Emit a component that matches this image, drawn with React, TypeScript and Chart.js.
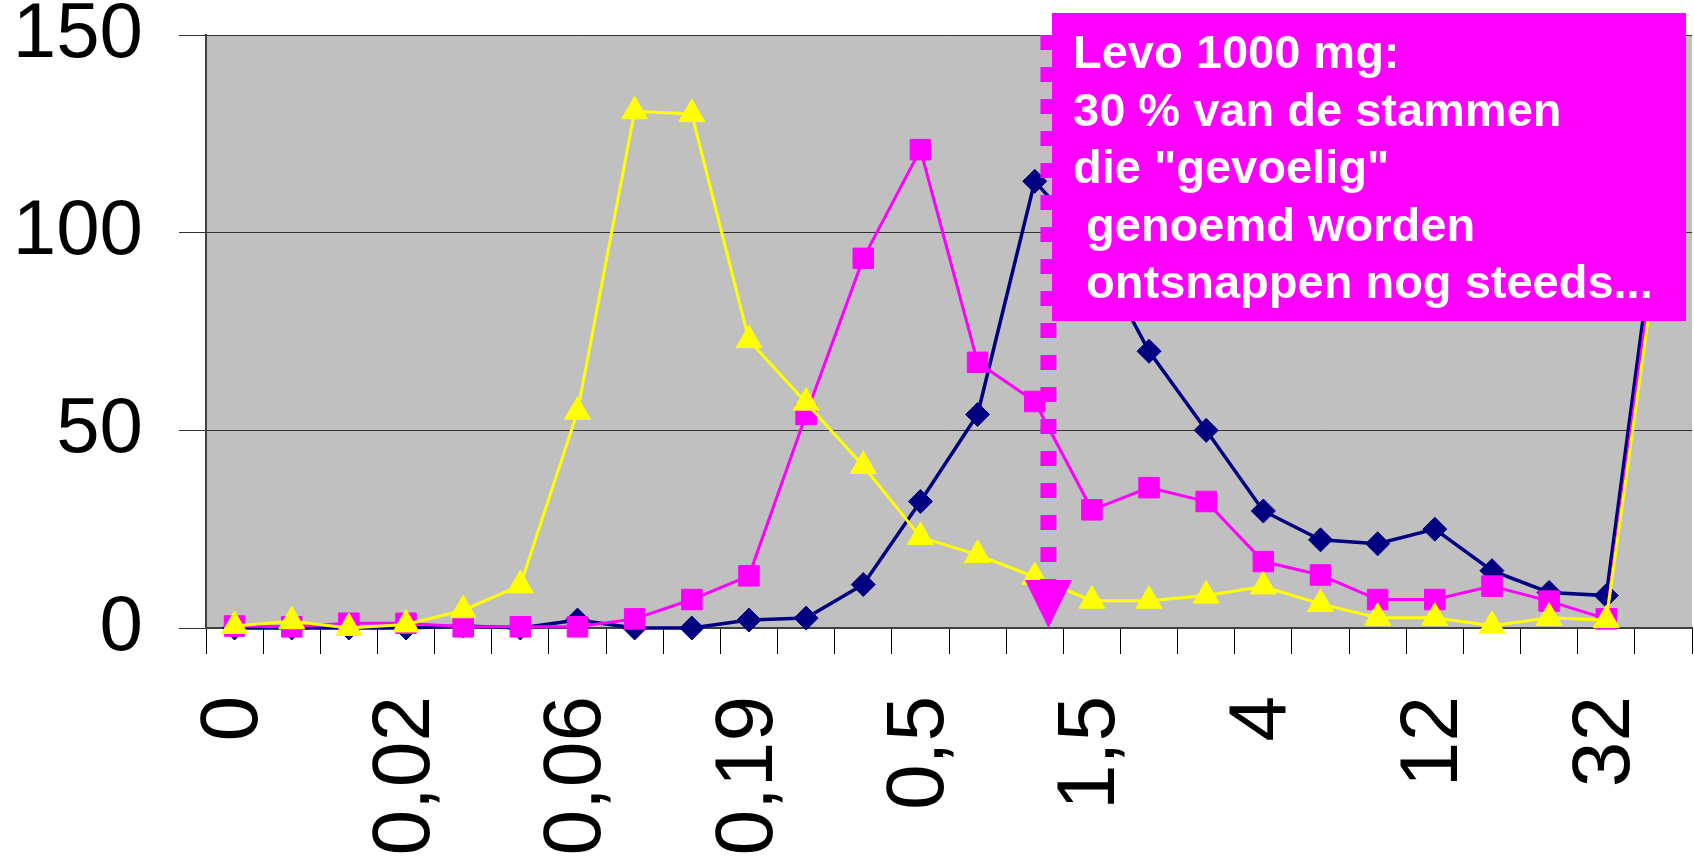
import React, { useEffect, useRef } from "react";
import { Chart, registerables } from "chart.js";

Chart.register(...registerables);

const categories = ["0", "0,01", "0,01", "0,02", "0,03", "0,05", "0,06", "0,09", "0,13", "0,19", "0,25", "0,38", "0,5", "0,75", "1", "1,5", "2", "3", "4", "6", "8", "12", "16", "24", "32", ">32"];

const navySeries = [0, 0, 0, 0, 0.5, 0, 2, 0, 0, 2, 2.5, 11, 32, 54, 113, 97, 70, 50, 29.6, 22.3, 21.3, 25, 14.5, 9, 8.2, 117];
const magentaSeries = [0.5, 0.3, 1.2, 1.2, 0.3, 0.3, 0.3, 2.3, 7.2, 13.2, 54, 93.5, 121, 67.2, 57.3, 29.9, 35.5, 32, 16.8, 13.4, 7.2, 7.2, 10.6, 6.8, 2.3, 112];
const yellowSeries = [0.5, 1.7, 0, 0.9, 4.5, 10.8, 54.7, 130.7, 130, 72.8, 57, 41, 23, 18.5, 12.9, 6.9, 6.9, 8.2, 10.5, 6.1, 2.6, 2.6, 0.6, 2.6, 2, 106];

const yTicks = [0, 50, 100, 150];
const labelEvery = 3;
const breakpointValue = 14.24; // category position of the dotted marker

const annotationLines = ["Levo 1000 mg:", "30 % van de stammen", 'die "gevoelig"', " genoemd worden", " ontsnappen nog steeds..."];

const FONT = "'Liberation Sans', Arial, sans-serif";

const bgPlugin = {
  id: "plotBg",
  beforeDraw(chart: any) {
    const { ctx, chartArea } = chart;
    ctx.save();
    ctx.fillStyle = "#C0C0C0";
    ctx.fillRect(chartArea.left, chartArea.top, chartArea.right - chartArea.left, chartArea.bottom - chartArea.top);
    ctx.restore();
  },
};

const annotationPlugin = {
  id: "levoAnnotation",
  afterDraw(chart: any) {
    const { ctx, chartArea, scales } = chart;
    const x = scales.x.getPixelForValue(breakpointValue);
    const arrowH = 48;
    const arrowW = 47;
    const tipY = chartArea.bottom;
    ctx.save();
    ctx.strokeStyle = "#FF00FF";
    ctx.lineWidth = 16;
    ctx.setLineDash([15, 17]);
    ctx.beginPath();
    ctx.moveTo(x, chartArea.top);
    ctx.lineTo(x, tipY - arrowH + 4);
    ctx.stroke();
    ctx.setLineDash([]);
    ctx.fillStyle = "#FF00FF";
    ctx.beginPath();
    ctx.moveTo(x - arrowW / 2, tipY - arrowH);
    ctx.lineTo(x + arrowW / 2, tipY - arrowH);
    ctx.lineTo(x, tipY);
    ctx.closePath();
    ctx.fill();
    const bx = 1052, by = 13, bw = 634, bh = 308;
    ctx.fillStyle = "#FF00FF";
    ctx.fillRect(bx, by, bw, bh);
    ctx.fillStyle = "#FFFFFF";
    ctx.font = `bold 47px ${FONT}`;
    ctx.textAlign = "left";
    ctx.textBaseline = "alphabetic";
    annotationLines.forEach((t, i) => {
      ctx.fillText(t, bx + 21, by + 55 + i * 57.5);
    });
    ctx.restore();
  },
};

export default function App() {
  const ref = useRef<HTMLCanvasElement | null>(null);

  useEffect(() => {
    document.body.style.margin = "0";
    const canvas = ref.current;
    if (!canvas) return;
    const common = { pointBorderWidth: 1, clip: false as any, tension: 0 };
    const chart = new Chart(canvas, {
      type: "line",
      data: {
        labels: categories,
        datasets: [
          {
            ...common,
            label: "navy",
            data: navySeries,
            borderColor: "#000080",
            backgroundColor: "#000080",
            pointStyle: "rectRot",
            pointRadius: 12,
            borderWidth: 3.5,
            order: 2,
          },
          {
            ...common,
            label: "magenta",
            data: magentaSeries,
            borderColor: "#FF00FF",
            backgroundColor: "#FF00FF",
            pointStyle: "rect",
            pointRadius: 14.5,
            borderWidth: 3,
            order: 1,
          },
          {
            ...common,
            label: "yellow",
            data: yellowSeries,
            borderColor: "#FFFF00",
            backgroundColor: "#FFFF00",
            pointStyle: "triangle",
            pointRadius: 15,
            borderWidth: 3,
            order: 0,
          },
        ],
      },
      options: {
        responsive: false,
        animation: false,
        devicePixelRatio: 1,
        layout: { autoPadding: false, padding: { top: 35, right: 2, left: 0, bottom: 0 } },
        plugins: { legend: { display: false }, tooltip: { enabled: false } },
        events: [],
        scales: {
          x: {
            type: "category",
            offset: true,
            grid: { offset: true, drawOnChartArea: false, drawTicks: true, tickLength: 26, color: "#000000", lineWidth: 1 },
            border: { display: true, color: "#404040", width: 2 },
            ticks: {
              autoSkip: false,
              maxRotation: 90,
              minRotation: 90,
              padding: 42,
              color: "#000000",
              font: { family: FONT, size: 82 },
              callback: (_v: any, i: number) => (i % labelEvery === 0 ? categories[i] : ""),
            },
            afterFit: (s: any) => {
              s.height = 229;
              s.paddingLeft = 0;
              s.paddingRight = 0;
            },
          },
          y: {
            min: 0,
            max: 150,
            afterBuildTicks: (s: any) => {
              s.ticks = yTicks.map((v) => ({ value: v }));
            },
            grid: { color: "#333333", lineWidth: 1, tickLength: 27, drawTicks: true },
            border: { display: true, color: "#404040", width: 2 },
            ticks: {
              padding: 36,
              color: "#000000",
              font: { family: FONT, size: 78, lineHeight: 0.9 },
            },
            afterFit: (s: any) => {
              s.width = 206;
              s.paddingTop = 0;
              s.paddingBottom = 0;
            },
          },
        },
      },
      plugins: [bgPlugin, annotationPlugin],
    });
    return () => chart.destroy();
  }, []);

  return (
    <div style={{ width: 1694, height: 857 }}>
      <canvas ref={ref} width={1694} height={857} style={{ display: "block" }} />
    </div>
  );
}
